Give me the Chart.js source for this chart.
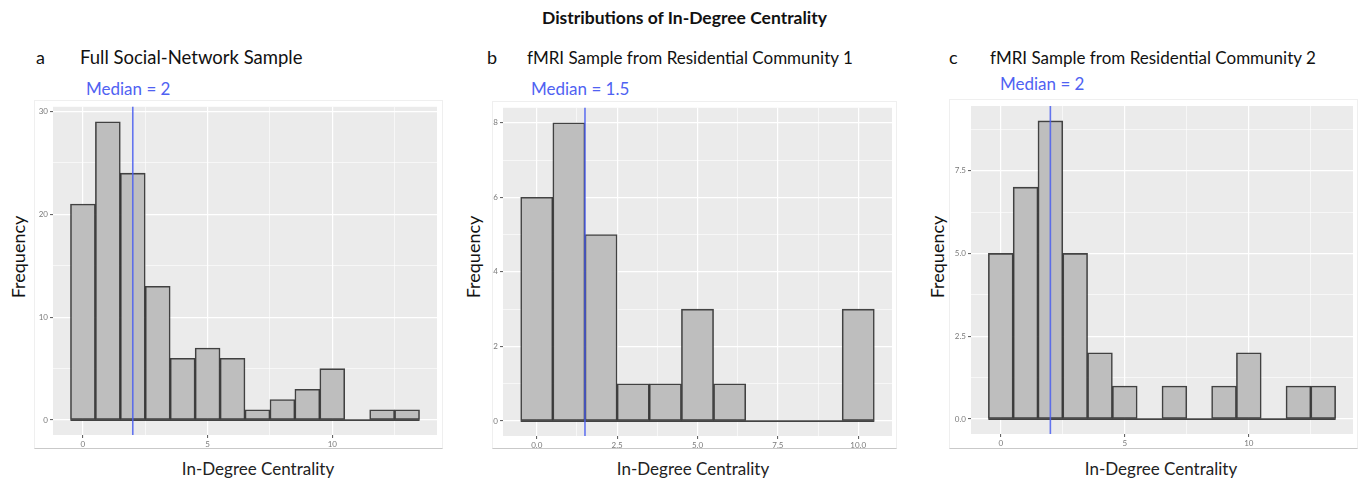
<!DOCTYPE html>
<html>
<head>
<meta charset="utf-8">
<script src="https://cdn.jsdelivr.net/npm/chart.js@4.4.1/dist/chart.umd.min.js"></script>
<style>
  body { margin: 0; background: #fff; font-family: Lato, "Open Sans", sans-serif; }
  #page { position: relative; width: 1369px; height: 485px; overflow: hidden; }
  .txt { position: absolute; white-space: nowrap; color: #111; }
  .frame { position: absolute; border: 1px solid #efefef; border-bottom-color: #c9c9c9; box-sizing: border-box; }
  canvas { position: absolute; }
  .ytitle { position: absolute; white-space: nowrap; font-size: 18px; color: #111;
            transform: translate(-50%, -50%) rotate(-90deg); }
  .xtitle { position: absolute; white-space: nowrap; font-size: 17px; color: #222; transform: translateX(-50%); }
  .median { position: absolute; white-space: nowrap; font-size: 17px; color: #4f62f2; }
</style>
</head>
<body>
<div id="page">
  <div class="txt" style="left:0;width:1369px;top:7px;text-align:center;font-weight:bold;font-size:17.5px;">Distributions of In-Degree Centrality</div>

  <div class="txt" style="left:36px;top:46px;font-size:18px;">a</div>
  <div class="txt" style="left:80px;top:46px;font-size:18.5px;">Full Social-Network Sample</div>
  <div class="txt" style="left:487px;top:46px;font-size:18px;">b</div>
  <div class="txt" style="left:527px;top:47px;font-size:17px;">fMRI Sample from Residential Community 1</div>
  <div class="txt" style="left:949px;top:46px;font-size:18px;">c</div>
  <div class="txt" style="left:990px;top:47px;font-size:17px;">fMRI Sample from Residential Community 2</div>

  <div class="median" style="left:86px;top:78px;">Median = 2</div>
  <div class="median" style="left:531px;top:78px;">Median = 1.5</div>
  <div class="median" style="left:1000px;top:73px;">Median = 2</div>

  <div class="frame" style="left:34px;top:100px;width:409px;height:349px;"></div>
  <div class="frame" style="left:492px;top:101px;width:405px;height:348px;"></div>
  <div class="frame" style="left:949px;top:99px;width:409px;height:350px;"></div>

  <canvas id="chartA" width="409" height="349" style="left:34px;top:100px;"></canvas>
  <canvas id="chartB" width="405" height="348" style="left:492px;top:101px;"></canvas>
  <canvas id="chartC" width="409" height="350" style="left:949px;top:99px;"></canvas>

  <div class="ytitle" style="left:18px;top:257px;">Frequency</div>
  <div class="ytitle" style="left:473px;top:257px;">Frequency</div>
  <div class="ytitle" style="left:937px;top:257px;">Frequency</div>

  <div class="xtitle" style="left:258px;top:458px;">In-Degree Centrality</div>
  <div class="xtitle" style="left:693px;top:458px;">In-Degree Centrality</div>
  <div class="xtitle" style="left:1161px;top:458px;">In-Degree Centrality</div>
</div>

<script>
// panel a - full social network sample
const degreesA = [0, 1, 2, 3, 4, 5, 6, 7, 8, 9, 10, 11, 12, 13];
const countsA = [21, 29, 24, 13, 6, 7, 6, 1, 2, 3, 5, 0, 1, 1];
const medianA = 2;
const xTicksA = [0, 5, 10];
const xLabelsA = ['0', '5', '10'];
const xMinorA = [2.5, 7.5, 12.5];
const yTicksA = [0, 10, 20, 30];
const yLabelsA = ['0', '10', '20', '30'];
const yMinorA = [5, 15, 25];

// panel b - fMRI sample, community 1
const degreesB = [0, 1, 2, 3, 4, 5, 6, 7, 8, 9, 10];
const countsB = [6, 8, 5, 1, 1, 3, 1, 0, 0, 0, 3];
const medianB = 1.5;
const xTicksB = [0, 2.5, 5, 7.5, 10];
const xLabelsB = ['0.0', '2.5', '5.0', '7.5', '10.0'];
const xMinorB = [1.25, 3.75, 6.25, 8.75];
const yTicksB = [0, 2, 4, 6, 8];
const yLabelsB = ['0', '2', '4', '6', '8'];
const yMinorB = [1, 3, 5, 7];

// panel c - fMRI sample, community 2
const degreesC = [0, 1, 2, 3, 4, 5, 6, 7, 8, 9, 10, 11, 12, 13];
const countsC = [5, 7, 9, 5, 2, 1, 0, 1, 0, 1, 2, 0, 1, 1];
const medianC = 2;
const xTicksC = [0, 5, 10];
const xLabelsC = ['0', '5', '10'];
const xMinorC = [2.5, 7.5, 12.5];
const yTicksC = [0, 2.5, 5, 7.5];
const yLabelsC = ['0.0', '2.5', '5.0', '7.5'];
const yMinorC = [1.25, 3.75, 6.25, 8.75];

const BAR_FILL = '#bebebe';
const BAR_EDGE = 'rgba(35,35,35,0.85)';
const PANEL_BG = '#ebebeb';
const MEDIAN_COLOR = 'rgba(75,95,240,0.85)';
const TICK_TXT = '#7a7a7a';

// fondo gris del panel (estilo ggplot)
const panelBg = {
  id: 'panelBg',
  beforeDraw(chart) {
    const a = chart.chartArea;
    const c = chart.ctx;
    c.save();
    c.fillStyle = PANEL_BG;
    c.fillRect(a.left, a.top, a.right - a.left, a.bottom - a.top);
    c.restore();
  }
};

// linea vertical de la mediana
const medianLine = {
  id: 'medianLine',
  afterDatasetsDraw(chart, args, opts) {
    const a = chart.chartArea;
    const x = chart.scales.x.getPixelForValue(opts.value);
    const c = chart.ctx;
    c.save();
    c.strokeStyle = MEDIAN_COLOR;
    c.lineWidth = 1.6;
    c.beginPath();
    c.moveTo(x, a.top);
    c.lineTo(x, a.bottom);
    c.stroke();
    c.restore();
  }
};

function makeTicks(major, minor) {
  return major.map(v => ({ value: v }))
    .concat(minor.map(v => ({ value: v, minor: true })))
    .sort((p, q) => p.value - q.value);
}

function axis(major, labels, minor, min, max, size, isX) {
  return {
    type: 'linear',
    min: min,
    max: max,
    offset: false,
    afterBuildTicks: s => { s.ticks = makeTicks(major, minor); },
    afterFit: s => { if (isX) s.height = size; else s.width = size; },
    border: { display: false },
    grid: {
      offset: false,
      color: '#ffffff',
      lineWidth: ctx => (ctx.tick && ctx.tick.minor) ? 0.6 : 1.2,
      tickColor: ctx => (ctx.tick && ctx.tick.minor) ? 'rgba(0,0,0,0)' : '#555',
      tickLength: 3,
      tickWidth: 1
    },
    ticks: {
      autoSkip: false,
      maxRotation: 0,
      padding: 2,
      color: TICK_TXT,
      font: { family: 'Lato, sans-serif', size: 8 },
      callback: function (value, index, ticks) {
        if (ticks[index] && ticks[index].minor) return '';
        const i = major.indexOf(value);
        return i >= 0 ? labels[i] : '';
      }
    }
  };
}

function histogram(id, p) {
  const lo = p.degrees[0] - 0.5;
  const hi = p.degrees[p.degrees.length - 1] + 0.5;
  const span = hi - lo;
  const top = Math.max(...p.counts);
  new Chart(document.getElementById(id), {
    type: 'bar',
    data: {
      datasets: [
        {
          type: 'bar',
          data: p.degrees.map((d, i) => ({ x: d, y: p.counts[i] })),
          backgroundColor: BAR_FILL,
          borderColor: BAR_EDGE,
          borderWidth: 1.6,
          borderSkipped: false,
          barPercentage: 1,
          categoryPercentage: 1
        },
        {
          type: 'line',
          data: [{ x: lo, y: 0 }, { x: hi, y: 0 }],
          borderColor: BAR_EDGE,
          borderWidth: 1.6,
          pointRadius: 0
        }
      ]
    },
    options: {
      responsive: false,
      animation: false,
      devicePixelRatio: 1,
      layout: { padding: p.pad },
      plugins: {
        legend: { display: false },
        tooltip: { enabled: false },
        medianLine: { value: p.median }
      },
      scales: {
        x: axis(p.xTicks, p.xLabels, p.xMinor, lo - 0.05 * span, hi + 0.05 * span, p.xSize, true),
        y: axis(p.yTicks, p.yLabels, p.yMinor, -0.05 * top, top * 1.05, p.ySize, false)
      }
    },
    plugins: [panelBg, medianLine]
  });
}

histogram('chartA', {
  degrees: degreesA, counts: countsA, median: medianA,
  xTicks: xTicksA, xLabels: xLabelsA, xMinor: xMinorA,
  yTicks: yTicksA, yLabels: yLabelsA, yMinor: yMinorA,
  pad: { top: 5, right: 6, left: 0, bottom: 0 }, ySize: 19, xSize: 14
});

histogram('chartB', {
  degrees: degreesB, counts: countsB, median: medianB,
  xTicks: xTicksB, xLabels: xLabelsB, xMinor: xMinorB,
  yTicks: yTicksB, yLabels: yLabelsB, yMinor: yMinorB,
  pad: { top: 5, right: 5, left: 0, bottom: 0 }, ySize: 11, xSize: 13
});

histogram('chartC', {
  degrees: degreesC, counts: countsC, median: medianC,
  xTicks: xTicksC, xLabels: xLabelsC, xMinor: xMinorC,
  yTicks: yTicksC, yLabels: yLabelsC, yMinor: yMinorC,
  pad: { top: 7, right: 5, left: 0, bottom: 0 }, ySize: 22, xSize: 15
});
</script>
</body>
</html>
